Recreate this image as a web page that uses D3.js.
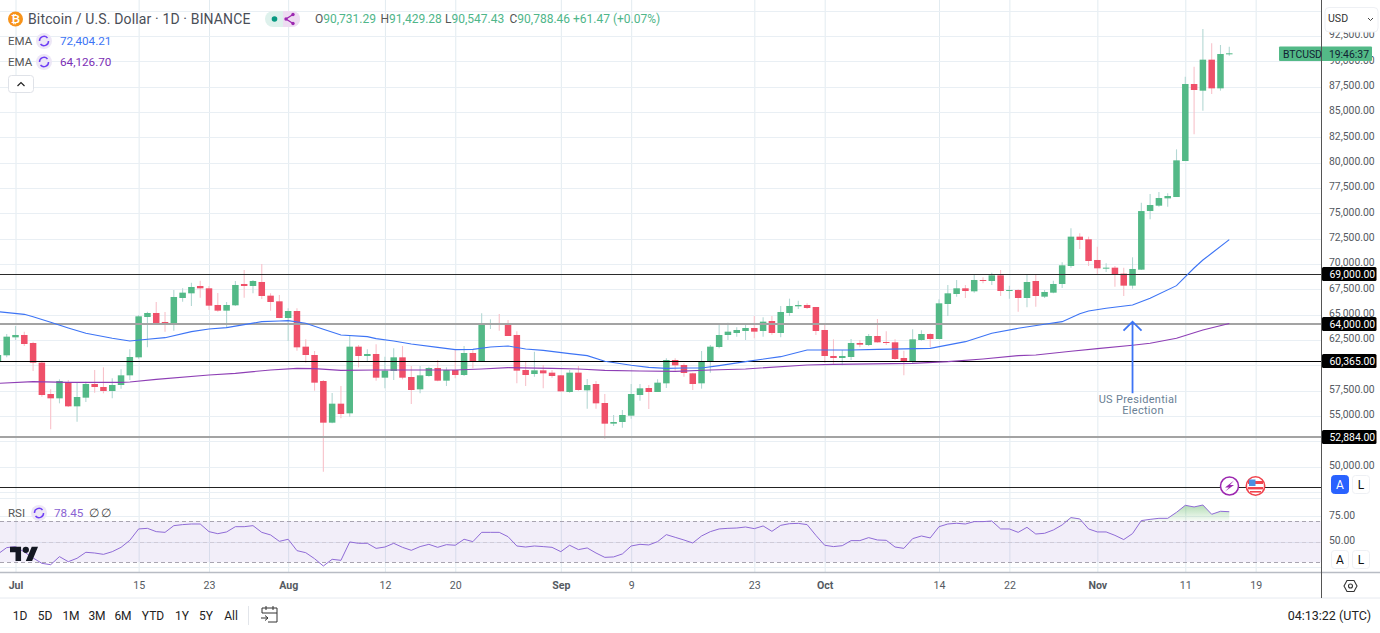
<!DOCTYPE html>
<html><head><meta charset="utf-8">
<script src="https://cdn.jsdelivr.net/npm/d3@7"></script>
<style>
html,body{margin:0;padding:0;background:#fff;overflow:hidden}
svg{display:block}
text{font-family:Roboto,"Liberation Sans",sans-serif}
</style></head><body>
<svg id="c" width="1380" height="633"></svg>
<script>
// ---- data ----
const firstDayOffset = -2;
const opens = [60422,60982,62758,62989,62199,60258,57165,56738,58350,55948,56803,58152,57856,57461,58053,59008,60784,64765,65160,64272,64074,66640,67101,67825,67595,65950,65390,65917,68022,67825,68220,66871,66311,64666,65357,61837,61014,58448,54336,56211,55257,61837,60916,61113,58777,59435,60784,58843,57626,58942,59731,58481,59534,59040,61212,60389,64074,64173,64173,62989,59534,59139,59501,59271,59008,57363,59271,57527,58152,56277,54237,54402,55027,57066,57757,57363,58218,60521,60027,59205,58218,60357,61804,62988,63186,63383,63679,63383,64370,63186,65160,65818,65949,65752,63482,60916,60718,60817,62199,62001,62890,62298,62265,60718,60389,62495,63087,62594,66048,67035,67595,67298,68417,68318,68878,67364,67430,66640,68318,66772,67167,68022,69799,72694,72431,70391,69569,69634,69042,67858,69437,75224,75751,76474,76606,80159,87759,87101,90161,87331,90731];
const closes = [61014,62824,62989,62100,60258,57066,56738,58448,55948,56869,58152,57856,57461,58053,59008,60817,64831,65160,64173,64074,66739,67167,67726,67595,65884,65390,65950,67924,67825,68318,66838,66246,64666,65357,61771,61014,58284,54336,56211,55191,61837,60916,61113,58777,59468,60784,58777,57560,59008,59731,58481,59534,59040,61212,60389,64074,64173,64074,62890,59468,59040,59501,59205,58942,57428,59271,57560,58053,56244,54237,54402,55093,57165,57724,57363,58284,60521,59995,59238,58152,60357,61837,62988,63317,63482,63679,63317,64305,63186,65259,65851,65949,65653,63383,60916,60718,60916,62199,62034,62890,62265,62199,60620,60389,62561,63087,62594,66114,67101,67595,67331,68417,68318,68878,67331,67430,66640,68219,66837,67233,68022,69865,72694,72365,70292,69569,69634,68943,67858,69503,75220,75816,76507,76705,80225,87759,87167,90161,87331,90720,90788];
const highs = [61200,63087,63877,63318,62331,60455,57626,58613,58547,58350,58382,59534,59797,58711,59600,61574,64963,65292,66246,65259,67430,67595,68154,68351,67825,67134,66246,68318,69404,68417,69996,67101,66936,65620,65620,62561,61409,58547,57264,57955,62890,62001,61574,62067,60850,61672,61903,59929,59929,59863,60521,59797,61508,61903,61574,65127,64535,65061,64469,63350,60356,61343,60027,59534,59040,59534,59929,58646,58448,57165,55093,55586,58152,58152,58053,58613,60686,60686,60192,59271,61409,62001,63976,64206,63745,64074,64864,64732,64864,65851,66575,66377,66114,65752,64140,62561,61508,62594,62495,63087,64568,63350,62561,61442,63548,63449,63153,66509,67924,68417,67924,69009,68680,69141,69404,67858,67496,68940,68940,67430,68351,70161,73517,73023,72694,71707,70062,69799,69634,70654,76047,76902,77100,76968,81311,88483,89470,93188,91773,91608,91429];
const lows = [60300,60784,62495,61903,59435,56902,53678,56244,55882,54435,56376,57297,57231,56738,57692,58547,60653,61771,64074,63317,63416,66278,65851,66673,65456,65291,63712,65851,66673,67101,66542,65390,64633,62396,61442,60258,57494,49500,54270,54764,54928,59797,60356,58481,57724,58547,58613,56178,57231,58876,58420,57955,58711,58942,59698,60389,63581,63416,62890,58218,57955,58876,57724,58777,57395,57297,57494,55718,55718,52757,54007,53842,54731,56507,55685,57363,57757,59468,58876,57560,57692,59271,61672,62495,62824,62495,62660,62824,63021,62758,64864,65555,65555,62988,60258,60126,59995,60521,61771,61903,62232,62001,60521,59008,60126,62429,61771,62561,64864,66772,66640,67167,68088,67924,66838,66575,65291,65723,65782,66640,67101,67627,69634,71477,69799,68943,69207,67759,66838,67562,69400,74402,75652,75652,76606,80159,82791,85127,86772,87101,90547];

const rsiValues = [38,44.2,45.2,40,34.2,29,27.7,35.5,30.6,33.9,39.7,39,37.7,40.3,44.5,51.3,62.3,62.9,59.7,59,65.5,66.5,67.1,67.1,59.7,57.7,59.4,64.5,64.5,65.5,59,56.5,50.3,52.3,41.3,39.3,33.5,26.4,32.9,31.9,49.7,48.4,48.4,43.5,44.8,48.4,44.5,41.6,45.2,47.4,44.5,47.1,46.5,52.3,50,59,59,59,54.8,45.8,44.8,45.8,45.2,44.5,40.3,46.5,42.3,43.9,39,34.8,35.2,38.1,45.8,47.4,46.8,50,56.8,54.2,51.6,48.7,55.5,59.7,62.3,62.9,63.2,64.2,62.6,65.2,60,65.8,67.4,67.7,66.5,56.1,46.5,45.2,46.1,51,51,53.9,51.6,51.3,44.8,43.5,52.9,55.5,53.6,64.5,67.1,67.8,67.1,69.4,69.4,70,62.3,62.3,59,63.9,57.4,58.1,61.3,66.2,73.3,72,62.3,59.4,59.4,56.1,52,57.8,70.4,71.6,72.6,72.6,78.4,85.2,83.6,85.5,76.5,79.4,79];

const emaFastDays = [-2,1,2,4,6,8,11,13,15,17,20,22,24,26,28,30,31,33,35,37,40,41,43,45,48,50,52,54,56,58,60,63,65,67,70,72,74,76,78,80,83,87,90,92,95,98,104,108,111,114,117,119,121,122,124,127,129,132,134,135,136,138];
const emaFastValues = [65292,65028,64798,64239,63679,63153,62660,62396,62561,62725,63317,63580,63712,64008,64304,64370,64403,64140,63548,62989,62824,62627,62396,62100,61771,61541,61574,61804,61903,61607,61475,61146,60949,60389,59995,59797,59698,59730,59731,59962,60357,60850,61508,61508,61508,61574,61672,62331,63153,63647,64041,64305,65094,65357,65621,65950,66608,67857,69600,70391,71050,72404];
const emaSlowDays = [-2,2,6,12,13,16,22,25,29,32,34,37,41,45,50,53,56,61,64,67,71,75,79,83,90,93,102,106,110,114,116,120,123,127,129,132,135,138];
const emaSlowValues = [58218,58382,58316,58316,58349,58613,59040,59205,59534,59698,59665,59501,59534,59534,59534,59633,59764,59698,59633,59501,59435,59400,59534,59633,60027,60093,60192,60357,60620,60950,61015,61377,61640,61969,62166,62660,63482,64126];

const priceTicks = [95000,92500,90000,87500,85000,82500,80000,77500,75000,72500,70000,67500,65000,62500,60000,57500,55000,52500,50000,47500];
const priceTickHidden = [95000,60000,52500,47500];
const hLevels = [69000,64000,60365,52884,47950];
const hLevelLabels = ["69,000.00","64,000.00","60,365.00","52,884.00",""];
const hLevelColors = ["#2b2b2b","#a3a3a3","#000","#a3a3a3","#222"];
const hLevelWidths = [1,2,1,2,1];
const timeTickDates = ["2024-07-01","2024-07-15","2024-07-23","2024-08-01","2024-08-12","2024-08-20","2024-09-01","2024-09-09","2024-09-23","2024-10-01","2024-10-14","2024-10-22","2024-11-01","2024-11-11","2024-11-19"];
const timeTickLabels = ["Jul","15","23","Aug","12","20","Sep","9","23","Oct","14","22","Nov","11","19"];
const rsiBands = [70,50,30];
const rsiTicks = [75,50];
const rsiGrid = [92,75,50,25];
const rangeLabels = ["1D","5D","1M","3M","6M","YTD","1Y","5Y","All"];
const rangeCenters = [20,45,71,97,123,153,182,206,231];

// ---- scales ----
const paneW = 1321, mainBottom = 498, rsiBottom = 572.5;
const day = d => new Date(Date.UTC(2024,6,1+d));
const parse = d3.utcParse("%Y-%m-%d");
const x = d3.scaleUtc().domain([day(0),day(133)]).range([15.5,1185.3]);
const y = d3.scaleLinear().domain([50000,90000]).range([466.6,61.3]);
const yR = d3.scaleLinear().domain([30,70]).range([562.3,521]);
const svg = d3.select("#c");
const defs = svg.append("defs");
defs.append("clipPath").attr("id","pm").append("rect").attr("width",paneW).attr("height",mainBottom);
defs.append("clipPath").attr("id","pr").append("rect").attr("y",mainBottom).attr("width",paneW).attr("height",rsiBottom-mainBottom);
const grad = defs.append("linearGradient").attr("id","ob").attr("x1",0).attr("x2",0).attr("y1",0).attr("y2",1);
grad.append("stop").attr("offset",0).attr("stop-color","#4caf50").attr("stop-opacity",.42);
grad.append("stop").attr("offset",1).attr("stop-color","#4caf50").attr("stop-opacity",.04);

const gridCol = "#e9eff4";
// grid
const grid = svg.append("g");
grid.selectAll("line.v").data(timeTickDates).join("line")
  .attr("x1",d=>x(parse(d))+.5).attr("x2",d=>x(parse(d))+.5).attr("y1",0).attr("y2",rsiBottom)
  .attr("stroke","#e2ebf0");
grid.selectAll("line.h").data(priceTicks).join("line").attr("class","h")
  .attr("x1",0).attr("x2",paneW).attr("y1",d=>Math.round(y(d))+.5).attr("y2",d=>Math.round(y(d))+.5)
  .attr("stroke",gridCol);
grid.selectAll("line.r").data(rsiGrid).join("line").attr("class","r")
  .attr("x1",0).attr("x2",paneW)
  .attr("y1",d=>Math.round(yR(d))+.5).attr("y2",d=>Math.round(yR(d))+.5).attr("stroke",gridCol);

// candles
const idx = d3.range(opens.length);
const dayOf = i => day(i+firstDayOffset);
const up = i => closes[i]>=opens[i];
const gm = svg.append("g").attr("clip-path","url(#pm)");
gm.selectAll("line.w").data(idx).join("line").attr("class","w")
  .attr("x1",i=>x(dayOf(i))).attr("x2",i=>x(dayOf(i)))
  .attr("y1",i=>y(highs[i])).attr("y2",i=>y(lows[i]))
  .attr("stroke",i=>up(i)?"#b4d8d4":"#f8c2ca").attr("stroke-width",1.1);
const bw = (x(day(1))-x(day(0)))*.74;
gm.selectAll("rect.b").data(idx).join("rect").attr("class","b")
  .attr("x",i=>x(dayOf(i))-bw/2).attr("width",bw)
  .attr("y",i=>y(Math.max(opens[i],closes[i])))
  .attr("height",i=>Math.max(1,Math.abs(y(opens[i])-y(closes[i]))))
  .attr("fill",i=>up(i)?"#53b987":"#ef5069");

// horizontal levels, snapped to whole pixels
const levelY = (d,i)=>hLevelWidths[i]===2?Math.floor(y(d)):Math.floor(y(d))+.5;
gm.selectAll("line.l").data(hLevels).join("line").attr("class","l")
  .attr("x1",0).attr("x2",paneW).attr("y1",levelY).attr("y2",levelY)
  .attr("stroke",(d,i)=>hLevelColors[i]).attr("stroke-width",(d,i)=>hLevelWidths[i]);

// EMAs
const mkLine = (days,vals,col)=>gm.append("path")
  .attr("d",d3.line().x((d,i)=>x(day(days[i]))).y((d,i)=>y(vals[i]))(days))
  .attr("fill","none").attr("stroke",col).attr("stroke-width",1.1);
mkLine(emaFastDays,emaFastValues,"#3d74f5");
mkLine(emaSlowDays,emaSlowValues,"#8e3fb5");

// annotation arrow (Nov 5)
const ax = x(day(127));
const ay1 = y(64300);
gm.append("path").attr("d",`M${ax},${y(57250)}L${ax},${ay1}M${ax-9},${ay1+9}L${ax},${ay1}L${ax+9},${ay1+9}`)
  .attr("fill","none").attr("stroke","#3d74f5").attr("stroke-width",1.8);
const ann = svg.append("g").attr("fill","#6a7f95").attr("font-size",11).attr("text-anchor","middle").attr("letter-spacing",.3);
ann.append("text").attr("x",1138).attr("y",403).text("US Presidential");
ann.append("text").attr("x",1143).attr("y",414).text("Election");

// RSI pane
const gr = svg.append("g").attr("clip-path","url(#pr)");
gr.append("rect").attr("x",0).attr("width",paneW).attr("y",yR(70)).attr("height",yR(30)-yR(70)).attr("fill","#7e57c2").attr("opacity",.1);
gr.selectAll("line.b").data(rsiBands).join("line").attr("class","b")
  .attr("x1",0).attr("x2",paneW).attr("y1",d=>Math.round(yR(d))+.5).attr("y2",d=>Math.round(yR(d))+.5)
  .attr("stroke",d=>d===50?"#cfcbd8":"#a8a4b0").attr("stroke-dasharray","4 3");
const rsiDay = i=>dayOf(i);
gr.append("path").datum(idx).attr("fill","url(#ob)")
  .attr("d",d3.area().x(i=>x(rsiDay(i))).y0(yR(70)).y1(i=>yR(Math.max(70,rsiValues[i]))));
gr.append("path").datum(idx).attr("fill","none").attr("stroke","#8f6bd6").attr("stroke-width",1)
  .attr("d",d3.line().x(i=>x(rsiDay(i))).y(i=>yR(rsiValues[i])));

// pane separators
svg.append("line").attr("x1",0).attr("x2",1380).attr("y1",rsiBottom).attr("y2",rsiBottom).attr("stroke","#b8bcc4").attr("stroke-width",1.6);
svg.append("line").attr("x1",0).attr("x2",1380).attr("y1",598).attr("y2",598).attr("stroke","#e6eaf0");
svg.append("line").attr("x1",1321.5).attr("x2",1321.5).attr("y1",0).attr("y2",598).attr("stroke","#555");

// TV logo
svg.append("g").attr("transform","translate(10,543.5) scale(.79)").attr("fill","#131722")
  .call(g=>{g.append("path").attr("d","M14 22H7V11H0V4h14v18zM28 22h-8l7.5-18h8L28 22z");g.append("circle").attr("cx",20).attr("cy",8).attr("r",4);});

// axes
const axisColor = "#555a62";
const yAxis = d3.axisRight(y).tickValues(priceTicks.filter(d=>!priceTickHidden.includes(d)))
  .tickSize(0).tickPadding(0).tickFormat(d3.format(",.2f"));
const gy = svg.append("g").attr("transform","translate(1329,-1.5)").call(yAxis);
gy.select(".domain").remove();
gy.selectAll("text").attr("font-size",10.4).attr("fill",axisColor).attr("dy",".32em");
const yAxisR = d3.axisRight(yR).tickValues(rsiTicks).tickSize(0).tickPadding(0).tickFormat(d3.format(".2f"));
const gyr = svg.append("g").attr("transform","translate(1329,-1)").call(yAxisR);
gyr.select(".domain").remove();
gyr.selectAll("text").attr("font-size",10.4).attr("fill",axisColor).attr("dy",".32em");

const xAxis = d3.axisBottom(x).tickValues(timeTickDates.map(parse)).tickSize(0).tickPadding(0)
  .tickFormat((d,i)=>timeTickLabels[i]);
const gx = svg.append("g").attr("transform","translate(0,583)").call(xAxis);
gx.select(".domain").remove();
gx.selectAll("text").attr("font-size",10.6).attr("fill",axisColor)
  .attr("font-weight",(d,i)=>isNaN(+timeTickLabels[i])?700:400).attr("dy",".52em");

// level tags
const tags = svg.append("g");
hLevels.forEach((v,i)=>{ if(!hLevelLabels[i]) return;
  const g=tags.append("g").attr("transform",`translate(1322,${Math.floor(y(v))})`);
  g.append("rect").attr("y",-7).attr("width",54.5).attr("height",14).attr("rx",1.5).attr("fill","#000");
  g.append("text").attr("x",7.5).attr("dy",".35em").attr("font-size",10.4).attr("fill","#fff").text(hLevelLabels[i]);
});
// last price tag
const tag = svg.append("g");
tag.append("rect").attr("x",1279).attr("y",46.5).attr("width",93).attr("height",14.5).attr("rx",1).attr("fill","#53b987");
tag.append("line").attr("x1",1321.5).attr("x2",1321.5).attr("y1",46).attr("y2",61).attr("stroke","#555");
tag.append("text").attr("x",1283).attr("y",57.8).attr("font-size",10.4).attr("fill","#123").text("BTCUSD");
tag.append("text").attr("x",1369).attr("y",57.8).attr("text-anchor","end").attr("font-size",10.4).attr("fill","#123").text("19:46:37");

// USD button
const usd = svg.append("g");
usd.append("rect").attr("x",1325).attr("y",7.5).attr("width",53).attr("height",24.5).attr("rx",4).attr("fill","#fff").attr("stroke","#eef0f4");
usd.append("text").attr("x",1328).attr("y",22).attr("font-size",10.6).attr("fill","#333").text("USD");
usd.append("path").attr("d","M1368,18l2.5,2.5l2.5,-2.5").attr("fill","none").attr("stroke","#444");

// A / L buttons
const btn=(cx,cy,t,on)=>{const g=svg.append("g");
  g.append("rect").attr("x",cx-8.5).attr("y",cy-9).attr("width",17).attr("height",18).attr("rx",3).attr("fill",on?"#2962ff":"#fff").attr("stroke",on?"#2962ff":"#eef0f4");
  g.append("text").attr("x",cx).attr("y",cy+4.5).attr("text-anchor","middle").attr("font-size",12).attr("fill",on?"#fff":"#111").text(t);};
btn(1340,484.5,"A",true);btn(1361,484.5,"L",false);btn(1340,559.5,"A",false);btn(1361,559.5,"L",false);

// chart icons
const ic = svg.append("g");
ic.append("circle").attr("cx",1229.5).attr("cy",486).attr("r",9).attr("fill","#fff").attr("stroke","#9c27b0").attr("stroke-width",1.5);
ic.append("path").attr("d","M1234,480.5L1225,487.5H1229L1225,491.5L1234,485H1230Z").attr("fill","#9c27b0");
ic.append("circle").attr("cx",1255.5).attr("cy",486).attr("r",9.2).attr("fill","#fff").attr("stroke","#f0444e").attr("stroke-width",1.6);
ic.append("rect").attr("x",1248).attr("y",481).attr("width",15).attr("height",3).attr("fill","#f0444e");
ic.append("rect").attr("x",1248).attr("y",487).attr("width",15).attr("height",2.4).attr("fill","#f0444e");
ic.append("rect").attr("x",1250).attr("y",491).attr("width",11).attr("height",1.6).attr("fill","#f0444e");
ic.append("rect").attr("x",1249).attr("y",479.5).attr("width",6.5).attr("height",6.5).attr("fill","#4a90e2");

// settings hexagon
svg.append("path").attr("d","M1344,586l3,-5.5h7l3,5.5l-3,5.5h-7z").attr("fill","none").attr("stroke","#333").attr("stroke-width",1.1);
svg.append("circle").attr("cx",1350.5).attr("cy",586).attr("r",2).attr("fill","none").attr("stroke","#333").attr("stroke-width",1.1);

// header
const h = svg.append("g");
h.append("circle").attr("cx",15.5).attr("cy",19).attr("r",7.5).attr("fill","#f7931a");
h.append("text").attr("x",15.5).attr("y",23).attr("text-anchor","middle").attr("font-size",11).attr("font-weight",700).attr("fill","#fff").text("₿");
h.append("text").attr("x",28).attr("y",24).attr("font-size",14).attr("fill","#4a4e57").attr("letter-spacing",.14).text("Bitcoin / U.S. Dollar · 1D · BINANCE");
h.append("rect").attr("x",265).attr("y",11).attr("width",35).attr("height",16).attr("rx",8).attr("fill","#def1ec");
h.append("path").attr("d","M283,11H292A8,8 0 0 1 292,27H283Z").attr("fill","#eedcf2");
h.append("circle").attr("cx",274.5).attr("cy",19).attr("r",2.8).attr("fill","#089981");
h.append("path").attr("d","M293,14.5L286,19L293,23.5").attr("fill","none").attr("stroke","#9c27b0").attr("stroke-width",1.3);
[[293,14.5],[286,19],[293,23.5]].forEach(p=>h.append("circle").attr("cx",p[0]).attr("cy",p[1]).attr("r",1.7).attr("fill","#9c27b0"));
const ohlc = [["O","90,731.29",315],["H","91,429.28",380.5],["L","90,547.43",445],["C","90,788.46",509.5]];
ohlc.forEach(o=>{
  const t=h.append("text").attr("x",o[2]).attr("y",23).attr("font-size",12);
  t.append("tspan").attr("fill","#555").text(o[0]);
  t.append("tspan").attr("fill","#4fb68a").text(o[1]);
});
h.append("text").attr("x",573).attr("y",23).attr("font-size",12).attr("fill","#4fb68a").text("+61.47 (+0.07%)");

const refresh=(cx,cy)=>{
  h.append("circle").attr("cx",cx).attr("cy",cy).attr("r",8).attr("fill","#ede7f6");
  h.append("path").attr("d",`M${cx-4.5},${cy}A4.5,4.5 0 0 1 ${cx+3.5},${cy-3}M${cx+4.5},${cy}A4.5,4.5 0 0 1 ${cx-3.5},${cy+3}`).attr("fill","none").attr("stroke","#6f3ff5").attr("stroke-width",1.5);
};
h.append("text").attr("x",8).attr("y",45).attr("font-size",11.5).attr("fill","#555").text("EMA");
refresh(44,41);
h.append("text").attr("x",60).attr("y",45).attr("font-size",11.7).attr("fill","#3d74f5").text("72,404.21");
h.append("text").attr("x",8).attr("y",66).attr("font-size",11.5).attr("fill","#555").text("EMA");
refresh(44,62);
h.append("text").attr("x",60).attr("y",66).attr("font-size",11.7).attr("fill","#7b2fb5").text("64,126.70");
h.append("rect").attr("x",8.5).attr("y",75.5).attr("width",25).attr("height",17).attr("rx",3).attr("fill","#fff").attr("stroke","#dfe2e8");
h.append("path").attr("d","M17.5,86l3.5,-3.5l3.5,3.5").attr("fill","none").attr("stroke","#222").attr("stroke-width",1.2);
h.append("text").attr("x",8).attr("y",517).attr("font-size",11.5).attr("fill","#555").text("RSI");
refresh(39,513);
h.append("text").attr("x",54).attr("y",517).attr("font-size",11.7).attr("fill","#8a63d2").text("78.45");
h.append("text").attr("x",89).attr("y",517).attr("font-size",12).attr("fill","#444").text("∅");
h.append("text").attr("x",100.5).attr("y",517).attr("font-size",12).attr("fill","#444").text("∅");

// bottom bar
const bb = svg.append("g");
rangeLabels.forEach((t,i)=>bb.append("text").attr("x",rangeCenters[i]).attr("y",620).attr("text-anchor","middle").attr("font-size",12).attr("fill","#222").text(t));
bb.append("line").attr("x1",248.5).attr("x2",248.5).attr("y1",606).attr("y2",625).attr("stroke","#e2e5ea");
bb.append("path").attr("d","M262,613V608H277V622H268M262,613H277M266,606V610M273,606V610M261,618H268M265,615.5L268,618L265,620.5").attr("fill","none").attr("stroke","#333");
bb.append("text").attr("x",1371).attr("y",620).attr("text-anchor","end").attr("font-size",12.5).attr("fill","#222").text("04:13:22 (UTC)");
</script></body></html>
